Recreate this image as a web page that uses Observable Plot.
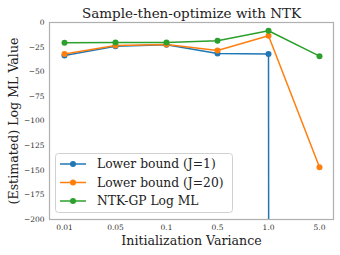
<!DOCTYPE html>
<html><head><meta charset="utf-8">
<script src="https://cdn.jsdelivr.net/npm/d3@7"></script>
<script src="https://cdn.jsdelivr.net/npm/@observablehq/plot@0.6"></script>
<style>
body{margin:0;background:#fff;}
#chart{position:relative;width:340px;height:255px;}
</style>
</head><body><div id="chart"></div>
<script>
const variances = ["0.01","0.05","0.1","0.5","1.0","5.0"];
const lowerJ1 = [-33.5,-24,-22.7,-31.5,-32,-60000];
const lowerJ20 = [-32,-23.4,-22.3,-28.4,-13.5,-147];
const ntkGP = [-20.6,-20.4,-20.3,-18.6,-8.4,-34.2];
const seriesNames = ["Lower bound (J=1)","Lower bound (J=20)","NTK-GP Log ML"];
const colors = ["#1f77b4","#ff7f0e","#2ca02c"];
const yTicks = [0,-25,-50,-75,-100,-125,-150,-175,-200];
const titleText = "Sample-then-optimize with NTK";

const allSeries = [lowerJ1, lowerJ20, ntkGP];
const data = [];
allSeries.forEach((vals,s)=>vals.forEach((v,i)=>data.push({x:variances[i],y:v,s:seriesNames[s]})));

const fmt = d => d===0 ? "0" : "\u2212"+Math.abs(d);
const FONT = "'DejaVu Serif', serif";

const plot = Plot.plot({
  width:340, height:255,
  marginTop:22, marginLeft:49, marginRight:7, marginBottom:36,
  style:{background:"#fff", fontFamily:FONT},
  x:{type:"point", domain:variances, padding:0.25, label:null},
  y:{domain:[-200,0], label:null},
  color:{domain:seriesNames, range:colors},
  marks:[
    Plot.axisX({tickSize:0, tickPadding:5, fontSize:7.5, fill:"#333", label:null}),
    Plot.axisY({ticks:yTicks, tickFormat:fmt, tickSize:0, tickPadding:5, fontSize:7.5, fill:"#333", label:null}),
    Plot.line(data,{x:"x",y:"y",z:"s",stroke:"s",strokeWidth:1.5,clip:true}),
    Plot.dot(data,{x:"x",y:"y",fill:"s",r:3,clip:true}),
    Plot.frame({stroke:"#b0b0b0",strokeWidth:1.2}),
    Plot.text([titleText],{frameAnchor:"top",dy:-9,lineAnchor:"middle",fontSize:13.5,fill:"#222",fontFamily:FONT,text:d=>d}),
    Plot.text(["Initialization Variance"],{frameAnchor:"bottom",dy:21,lineAnchor:"middle",fontSize:12.6,fill:"#222",fontFamily:FONT,text:d=>d}),
    Plot.text(["(Estimated) Log ML Value"],{frameAnchor:"left",dx:-36,rotate:-90,textAnchor:"middle",lineAnchor:"middle",fontSize:12.6,fill:"#222",fontFamily:FONT,text:d=>d})
  ]
});
document.getElementById("chart").appendChild(plot);

// legend
const svg = d3.select(plot);
const lg = svg.append("g").attr("text-anchor","start").attr("font-family",FONT);
lg.append("rect").attr("x",55.5).attr("y",153.5).attr("width",177).attr("height",59)
  .attr("rx",3).attr("fill","#fff").attr("fill-opacity",0.85).attr("stroke","#d0d0d0");
seriesNames.forEach((name,i)=>{
  const y = 164 + i*18.5;
  lg.append("line").attr("x1",60).attr("x2",86).attr("y1",y).attr("y2",y)
    .attr("stroke",colors[i]).attr("stroke-width",1.5);
  lg.append("circle").attr("cx",73).attr("cy",y).attr("r",3).attr("fill",colors[i]);
  lg.append("text").attr("x",97).attr("y",y).attr("dy","0.35em")
    .attr("font-size",12.3).attr("fill","#222").text(name);
});
</script></body></html>
